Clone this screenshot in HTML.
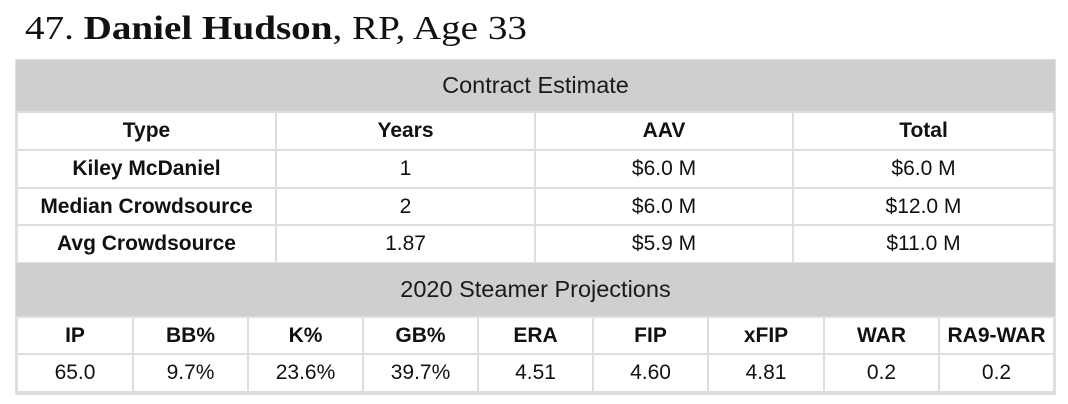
<!DOCTYPE html>
<html>
<head>
<meta charset="utf-8">
<style>
  html,body{margin:0;padding:0;background:#fff;}
  body{width:1068px;height:404px;position:relative;overflow:hidden;font-family:"Liberation Sans",sans-serif;color:#111;}
  .title{position:absolute;left:25px;top:9px;font-family:"Liberation Serif",serif;font-size:34px;line-height:40px;white-space:nowrap;color:#111;transform:scaleX(1.15);transform-origin:left top;}
  .title b{font-weight:bold;}
  .frame{position:absolute;left:15px;top:59px;width:1041px;height:336px;background:#dedede;}
  .c{position:absolute;background:#fff;display:flex;align-items:center;justify-content:center;font-size:21px;white-space:nowrap;}
  .h{background:#cfcfcf;font-size:23.5px;color:#1a1a1a;}
  .b{font-weight:bold;}
</style>
</head>
<body>
<div class="title">47. <b>Daniel Hudson</b>, RP, Age 33</div>
<div class="frame"></div>

<div class="c h" style="left:16px;top:60px;width:1039px;height:51px;">Contract Estimate</div>

<div class="c b" style="left:18px;top:113px;width:257px;height:36px;">Type</div>
<div class="c b" style="left:277px;top:113px;width:257px;height:36px;">Years</div>
<div class="c b" style="left:536px;top:113px;width:256px;height:36px;">AAV</div>
<div class="c b" style="left:794px;top:113px;width:259px;height:36px;">Total</div>

<div class="c b" style="left:18px;top:151px;width:257px;height:36px;">Kiley McDaniel</div>
<div class="c" style="left:277px;top:151px;width:257px;height:36px;">1</div>
<div class="c" style="left:536px;top:151px;width:256px;height:36px;">$6.0 M</div>
<div class="c" style="left:794px;top:151px;width:259px;height:36px;">$6.0 M</div>

<div class="c b" style="left:18px;top:189px;width:257px;height:35px;">Median Crowdsource</div>
<div class="c" style="left:277px;top:189px;width:257px;height:35px;">2</div>
<div class="c" style="left:536px;top:189px;width:256px;height:35px;">$6.0 M</div>
<div class="c" style="left:794px;top:189px;width:259px;height:35px;">$12.0 M</div>

<div class="c b" style="left:18px;top:226px;width:257px;height:36px;">Avg Crowdsource</div>
<div class="c" style="left:277px;top:226px;width:257px;height:36px;">1.87</div>
<div class="c" style="left:536px;top:226px;width:256px;height:36px;">$5.9 M</div>
<div class="c" style="left:794px;top:226px;width:259px;height:36px;">$11.0 M</div>

<div class="c h" style="left:16px;top:263px;width:1039px;height:53px;">2020 Steamer Projections</div>

<div class="c b" style="left:18px;top:318px;width:114px;height:35px;">IP</div>
<div class="c b" style="left:134px;top:318px;width:113px;height:35px;">BB%</div>
<div class="c b" style="left:249px;top:318px;width:113px;height:35px;">K%</div>
<div class="c b" style="left:364px;top:318px;width:113px;height:35px;">GB%</div>
<div class="c b" style="left:479px;top:318px;width:113px;height:35px;">ERA</div>
<div class="c b" style="left:594px;top:318px;width:113px;height:35px;">FIP</div>
<div class="c b" style="left:709px;top:318px;width:114px;height:35px;">xFIP</div>
<div class="c b" style="left:825px;top:318px;width:113px;height:35px;">WAR</div>
<div class="c b" style="left:940px;top:318px;width:113px;height:35px;">RA9-WAR</div>

<div class="c" style="left:18px;top:355px;width:114px;height:36px;">65.0</div>
<div class="c" style="left:134px;top:355px;width:113px;height:36px;">9.7%</div>
<div class="c" style="left:249px;top:355px;width:113px;height:36px;">23.6%</div>
<div class="c" style="left:364px;top:355px;width:113px;height:36px;">39.7%</div>
<div class="c" style="left:479px;top:355px;width:113px;height:36px;">4.51</div>
<div class="c" style="left:594px;top:355px;width:113px;height:36px;">4.60</div>
<div class="c" style="left:709px;top:355px;width:114px;height:36px;">4.81</div>
<div class="c" style="left:825px;top:355px;width:113px;height:36px;">0.2</div>
<div class="c" style="left:940px;top:355px;width:113px;height:36px;">0.2</div>
</body>
</html>
